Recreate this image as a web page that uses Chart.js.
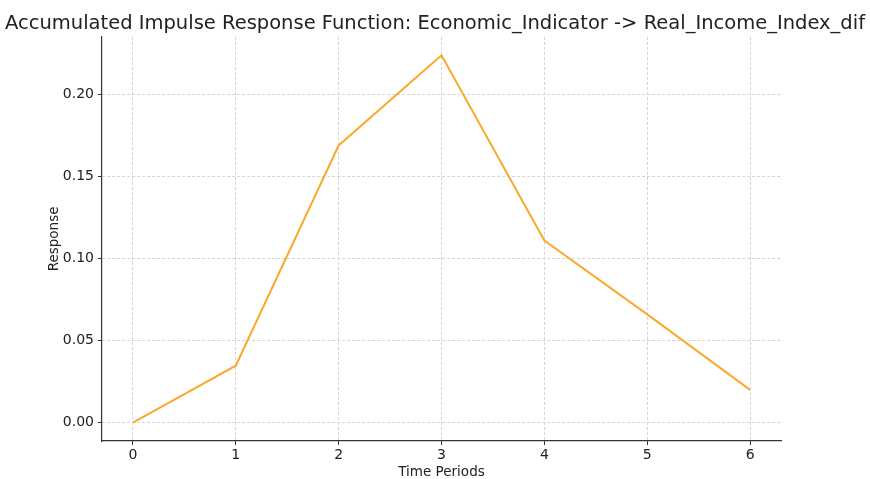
<!DOCTYPE html>
<html>
<head>
<meta charset="utf-8">
<script src="https://cdn.jsdelivr.net/npm/chart.js@4.4.0/dist/chart.umd.min.js"></script>
<style>
html,body{margin:0;padding:0;background:#fff;}
#wrap{width:870px;height:479px;}
</style>
</head>
<body>
<div id="wrap"><canvas id="c" width="870" height="479"></canvas></div>
<script>
const periods = [0, 1, 2, 3, 4, 5, 6];
const responses = [0.0, 0.0347, 0.169, 0.224, 0.111, 0.066, 0.020];
const yTicks = [0.00, 0.05, 0.10, 0.15, 0.20];
const xTicks = [0, 1, 2, 3, 4, 5, 6];

const FONT = "'DejaVu Sans', sans-serif";
const points = periods.map((p, i) => ({x: p, y: responses[i]}));

new Chart(document.getElementById('c'), {
  type: 'line',
  data: {
    datasets: [{
      data: points,
      borderColor: '#FBA92D',
      borderWidth: 2,
      pointRadius: 0,
      tension: 0,
      fill: false
    }]
  },
  options: {
    responsive: false,
    animation: false,
    devicePixelRatio: 1,
    layout: {padding: {left: 0, right: 0, top: 0, bottom: 0}},
    plugins: {
      legend: {display: false},
      tooltip: {enabled: false},
      title: {
        display: true,
        text: 'Accumulated Impulse Response Function: Economic_Indicator -> Real_Income_Index_dif',
        color: '#222',
        font: {family: FONT, size: 19.5, weight: 'normal', lineHeight: 1.2},
        padding: {top: 12, bottom: 1.5}
      }
    },
    scales: {
      x: {
        type: 'linear',
        min: -0.3,
        max: 6.3,
        afterBuildTicks: (s) => { s.ticks = xTicks.map(v => ({value: v})); },
        afterFit: (s) => { s.height = 38; },
        ticks: {
          color: '#222',
          font: {family: FONT, size: 14},
          padding: 2,
          maxRotation: 0,
          callback: (v) => String(v)
        },
        grid: {color: '#d4d4d4', lineWidth: 1, tickLength: 4, tickColor: '#333', drawTicks: true},
        border: {display: true, color: '#333', width: 1.2, dash: [3, 2]},
        title: {
          display: true,
          text: 'Time Periods',
          color: '#222',
          font: {family: FONT, size: 13.5, lineHeight: 1.0},
          padding: {top: 0, bottom: 0}
        }
      },
      y: {
        type: 'linear',
        min: -0.0112,
        max: 0.2352,
        afterBuildTicks: (s) => { s.ticks = yTicks.map(v => ({value: v})); },
        afterFit: (s) => { s.width = 102; },
        ticks: {
          color: '#222',
          font: {family: FONT, size: 14},
          padding: 4,
          callback: (v) => Number(v).toFixed(2)
        },
        grid: {color: '#d4d4d4', lineWidth: 1, tickLength: 4, tickColor: '#333', drawTicks: true},
        border: {display: true, color: '#333', width: 1.2, dash: [3, 2]},
        title: {
          display: true,
          text: 'Response',
          color: '#222',
          font: {family: FONT, size: 13.5, lineHeight: 1.2},
          padding: {top: 46, bottom: 0}
        }
      },
      spacer: {
        type: 'linear',
        position: 'right',
        display: true,
        afterFit: (s) => { s.width = 89; },
        ticks: {display: false},
        grid: {display: false, drawOnChartArea: false},
        border: {display: false},
        title: {display: false}
      }
    }
  }
});
</script>
</body>
</html>
